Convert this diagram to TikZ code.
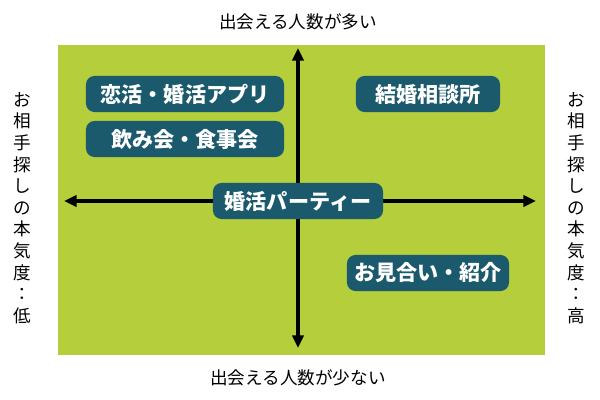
\documentclass[tikz,border=0pt]{standalone}
\usepackage{fontspec}
\setmainfont{Noto Sans CJK JP}
\usetikzlibrary{arrows.meta,positioning}
\definecolor{lime}{HTML}{B4CE3C}
\definecolor{tealbox}{HTML}{1B5A6C}

\begin{document}
\begin{tikzpicture}[x=0.025cm, y=-0.025cm,
    >={Triangle[length=9pt,width=8pt]},
    item/.style = {fill=tealbox, rounded corners=6pt, text=white,
                   font=\fontsize{15pt}{17pt}\bfseries, minimum height=0.9cm,
                   inner xsep=4pt},
    axis/.style = {font=\fontsize{12.5pt}{15pt}\selectfont},
    side/.style = {align=center, font=\fontsize{12.5pt}{15.4pt}\selectfont}
                    ]
\useasboundingbox (0,0) rectangle (600,400);
\fill[lime] (58,45) rectangle (545,355);
% axes
\coordinate (top)    at (298,48);
\coordinate (bottom) at (298,348);
\coordinate (left)   at (64,201);
\coordinate (right)  at (536,201);
\draw[line width=2.5pt,<->] (top) -- (bottom);
\draw[line width=2.5pt,<->] (left) -- (right);
% items
\node (app)   [item, minimum width=4.95cm] at (185,94)  {恋活・婚活アプリ};
\node (meal)  [item, minimum width=4.95cm] at (185,139) {飲み会・食事会};
\node (agency)[item, minimum width=3.6cm]  at (428,94)  {結婚相談所};
\node (party) [item, minimum width=4.25cm] at (298,201) {婚活パーティー};
\node (omiai) [item, minimum width=4.05cm] at (428,273) {お見合い・紹介};
% labels
\node (many) [axis] at (298,22)  {出会える人数が多い};
\node (few)  [axis] at (298,378) {出会える人数が少ない};
\node (low)  [side] at (22,208)  {お\\相\\手\\探\\し\\の\\本\\気\\度\\：\\低};
\node (high) [side] at (576,208) {お\\相\\手\\探\\し\\の\\本\\気\\度\\：\\高};
\end{tikzpicture}
\end{document}
